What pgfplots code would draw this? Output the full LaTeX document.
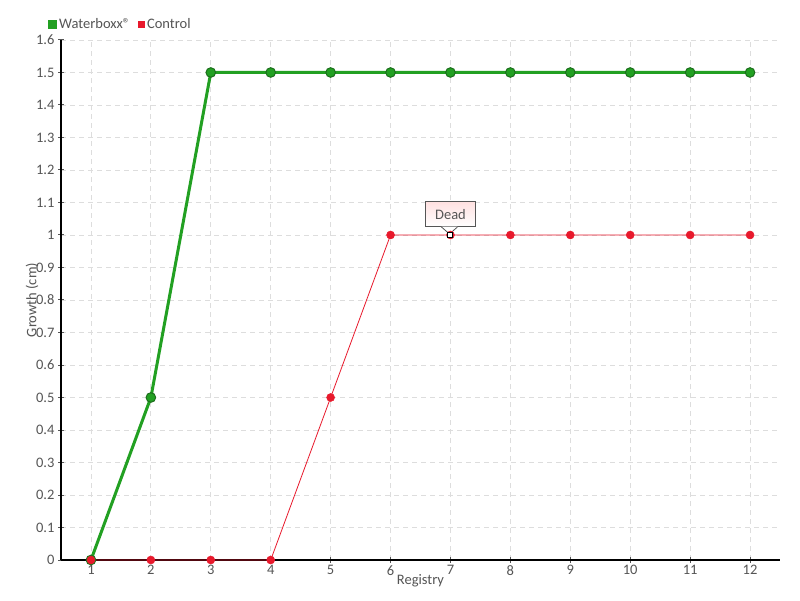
\documentclass[border=0pt]{standalone}
\usepackage{fontspec}
\setmainfont{Carlito}
\usepackage{pgfplots}
\pgfplotsset{compat=1.18}
\definecolor{txtgray}{HTML}{555555}
\definecolor{gridgray}{HTML}{DDDDDD}
\definecolor{wgreen}{HTML}{22A022}
\definecolor{wgreendark}{HTML}{1C6E1C}
\definecolor{cred}{HTML}{E8192C}
\begin{document}
\begin{tikzpicture}[x=1pt,y=1pt]
\path[use as bounding box, fill=white] (0,0) rectangle (800,600);
\begin{axis}[
  at={(61pt,40pt)}, anchor=south west,
  scale only axis, width=719pt, height=520pt,
  xmin=0.5, xmax=12.5, ymin=0, ymax=1.6,
  axis lines*=left,
  axis line style={black, line width=1.2pt, -},
  x axis line style={draw=none},
  xtick={1,...,12},
  ytick={0,0.1,0.2,0.3,0.4,0.5,0.6,0.7,0.8,0.9,1,1.1,1.2,1.3,1.4,1.5,1.6},
  yticklabel style={/pgf/number format/fixed, /pgf/number format/precision=1},
  /pgf/number format/assume math mode=true,
  tick style={txtgray, line width=1pt},
  tick align=center,
  major tick length=6pt,
  ticklabel style={font=\fontsize{14.5}{16}\selectfont, text=txtgray},
  xticklabel style={yshift=1pt},
  grid=major,
  major grid style={gridgray, dash pattern=on 5pt off 4pt, line width=0.8pt},
  xlabel={Registry}, ylabel={Growth (cm)},
  label style={font=\fontsize{14.5}{16}\selectfont, text=txtgray},
  x label style={at={(axis description cs:0.5,-0.0404)}, anchor=center},
  y label style={at={(axis description cs:-0.0403,0.5)}, anchor=center},
  legend columns=2,
  legend style={at={(0,1)}, anchor=south west, xshift=-16pt, yshift=6pt, draw=none, fill=none,
    font=\fontsize{14.5}{16}\selectfont, text=txtgray,
    /tikz/every even column/.append style={column sep=6pt}},
  legend image code/.code={\fill[#1] (0pt,-3pt) rectangle (6pt,3pt);},
  clip=false,
]
\draw[black, line width=1.2pt] (rel axis cs:0,0) -- (rel axis cs:1,0);
\addplot[wgreen, line width=3pt, mark=*, mark size=4.8pt,
  mark options={fill=wgreen, draw=wgreendark, line width=1pt}]
  coordinates {(1,0) (2,0.5) (3,1.5) (4,1.5) (5,1.5) (6,1.5) (7,1.5) (8,1.5) (9,1.5) (10,1.5) (11,1.5) (12,1.5)};
\addlegendentry{Waterboxx®}
\addplot[cred, line width=0.8pt, mark=*, mark size=4pt,
  mark options={fill=cred, draw=cred, line width=0.5pt}]
  coordinates {(1,0) (2,0) (3,0) (4,0) (5,0.5) (6,1) (7,1) (8,1) (9,1) (10,1) (11,1) (12,1)};
\addlegendentry{Control}
\addplot[only marks, mark=square*, mark size=2.5pt,
  mark options={fill=white, draw=black, line width=1pt}, forget plot]
  coordinates {(7,1)};
\node[draw=txtgray, line width=0.8pt, top color=red!12, bottom color=white,
  font=\fontsize{14.5}{16}\selectfont, text=txtgray, minimum width=50pt, minimum height=25pt,
  anchor=south, inner sep=2pt] (dead) at ([yshift=8pt]axis cs:7,1) {Dead};
\fill[white] ([xshift=-9pt,yshift=0.4pt]dead.south) -- ([xshift=-1pt,yshift=-7pt]dead.south) -- ([xshift=7pt,yshift=0.4pt]dead.south) -- cycle;
\draw[txtgray, line width=0.8pt] ([xshift=-9pt]dead.south) -- ([xshift=-1pt,yshift=-7pt]dead.south) -- ([xshift=7pt]dead.south);
\end{axis}
\end{tikzpicture}
\end{document}
